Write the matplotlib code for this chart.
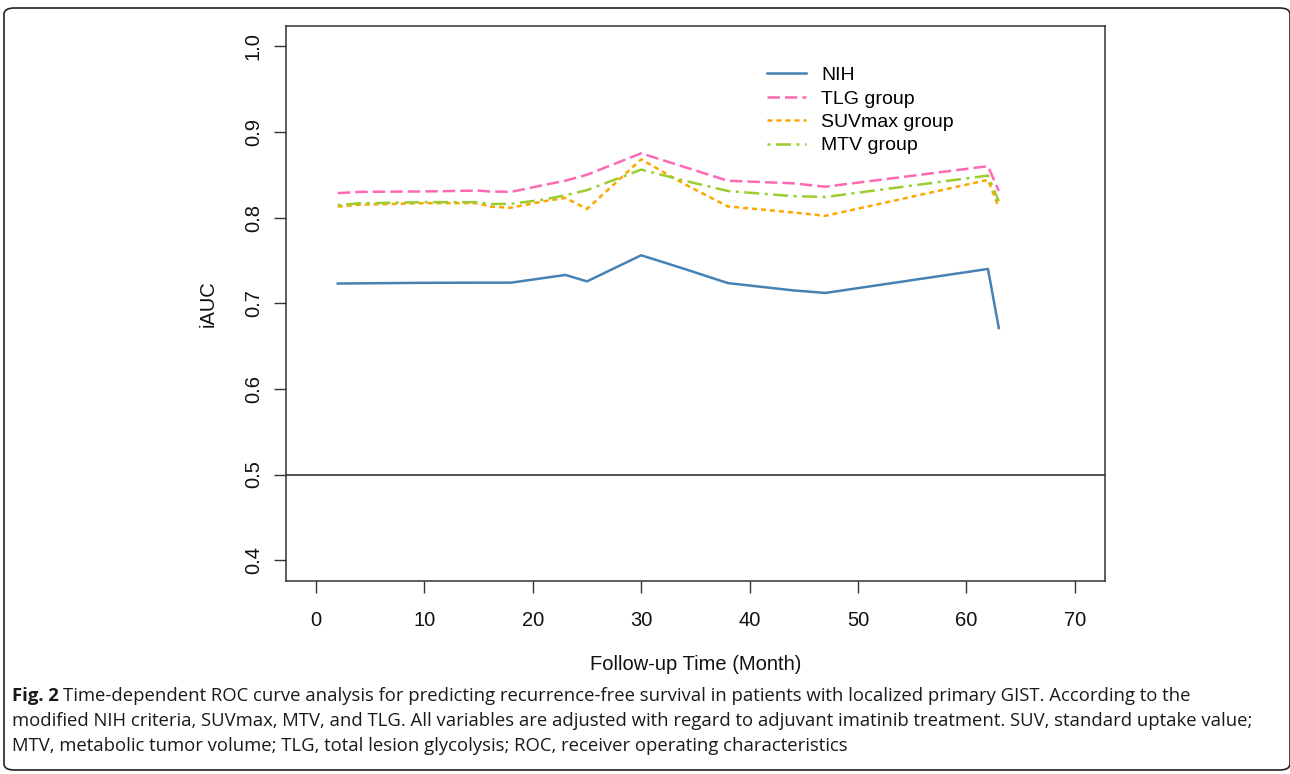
import matplotlib.pyplot as plt
from matplotlib.patches import FancyBboxPatch

# follow-up months and iAUC readings
months = [2, 4, 10, 15, 16, 18, 21, 23, 25, 30, 34, 38, 44, 47, 62, 63]
nih = [0.723, 0.7232, 0.7238, 0.724, 0.724, 0.724, 0.7294, 0.733, 0.7255,
       0.756, 0.740, 0.7235, 0.715, 0.712, 0.740, 0.671]
tlg = [0.8285, 0.830, 0.8305, 0.8315, 0.8305, 0.830, 0.838, 0.843, 0.850,
       0.875, 0.859, 0.843, 0.840, 0.836, 0.860, 0.831]
suvmax = [0.8128, 0.815, 0.8168, 0.8168, 0.8127, 0.8115, 0.819, 0.823, 0.810,
          0.868, 0.839, 0.813, 0.806, 0.802, 0.844, 0.8115]
mtv = [0.8146, 0.8166, 0.818, 0.818, 0.8158, 0.816, 0.821, 0.826, 0.832,
       0.856, 0.843, 0.831, 0.825, 0.824, 0.849, 0.819]

labels = ['NIH', 'TLG group', 'SUVmax group', 'MTV group']
colors = ['#4682B4', '#FF69B4', '#FFA500', '#9ACD32']
x_ticks = [0, 10, 20, 30, 40, 50, 60, 70]
y_ticks = [0.4, 0.5, 0.6, 0.7, 0.8, 0.9, 1.0]

plt.rcParams['font.family'] = ['Liberation Sans', 'DejaVu Sans']

fig = plt.figure(figsize=(12.9, 7.74), dpi=100)
ax = fig.add_axes([0.2215, 0.2497, 0.6351, 0.7171])

lw = 1.8
ax.plot(months, nih, color=colors[0], lw=lw, label=labels[0])
ax.plot(months, tlg, color=colors[1], lw=lw, dashes=(5, 2), label=labels[1])
ax.plot(months, suvmax, color=colors[2], lw=lw, dashes=(2, 1.6), label=labels[2])
ax.plot(months, mtv, color=colors[3], lw=lw, dashes=(1.2, 2.2, 6, 2.2), label=labels[3])
ax.axhline(0.5, color='#222222', lw=1.1)

# R-style 4% padding
ax.set_xlim(-2.8, 72.8)
ax.set_ylim(0.376, 1.024)
ax.set_xticks(x_ticks)
ax.set_xticklabels([str(t) for t in x_ticks])
ax.set_yticks(y_ticks)
ax.set_yticklabels([f'{t:.1f}' for t in y_ticks], rotation=90, va='center')
ax.tick_params(axis='both', length=8.5, width=1, color='#333333', labelsize=14.5, labelcolor='#111111')
ax.tick_params(axis='x', pad=13)
ax.tick_params(axis='y', pad=8)
for s in ax.spines.values():
    s.set_color('#333333')
    s.set_linewidth(1.1)

ax.set_xlabel('Follow-up Time (Month)', fontsize=14.5, labelpad=18, color='#111111')
ax.set_ylabel('iAUC', fontsize=14.5, labelpad=19, color='#111111')

ax.legend(loc='upper left', bbox_to_anchor=(0.566, 0.958), frameon=False, fontsize=14,
          handlelength=2.0, handletextpad=0.8, labelspacing=0.3)

# caption
cap_font = ['Open Sans', 'DejaVu Sans']
cap_size = 13.3
line1 = ('Time-dependent ROC curve analysis for predicting recurrence-free survival in patients with '
         'localized primary GIST. According to the')
line2 = ('modified NIH criteria, SUVmax, MTV, and TLG. All variables are adjusted with regard to adjuvant '
         'imatinib treatment. SUV, standard uptake value;')
line3 = 'MTV, metabolic tumor volume; TLG, total lesion glycolysis; ROC, receiver operating characteristics'
fig.text(12 / 1290, 1 - 696 / 774, 'Fig. 2', fontsize=cap_size, fontweight='bold', va='center',
         family=cap_font, color='#1a1a1a')
fig.text(63 / 1290, 1 - 696 / 774, line1, fontsize=cap_size, va='center', family=cap_font, color='#1a1a1a')
fig.text(12 / 1290, 1 - 721 / 774, line2, fontsize=cap_size, va='center', family=cap_font, color='#1a1a1a')
fig.text(12 / 1290, 1 - 746 / 774, line3, fontsize=cap_size, va='center', family=cap_font, color='#1a1a1a')

frame = FancyBboxPatch((4 / 1290, 1 - 770 / 774), 1286 / 1290, 762 / 774,
                       boxstyle='round,pad=0,rounding_size=0.008', transform=fig.transFigure,
                       fill=False, edgecolor='#222222', lw=1.2, clip_on=False)
fig.patches.append(frame)

fig.savefig('out.png', dpi=100)
